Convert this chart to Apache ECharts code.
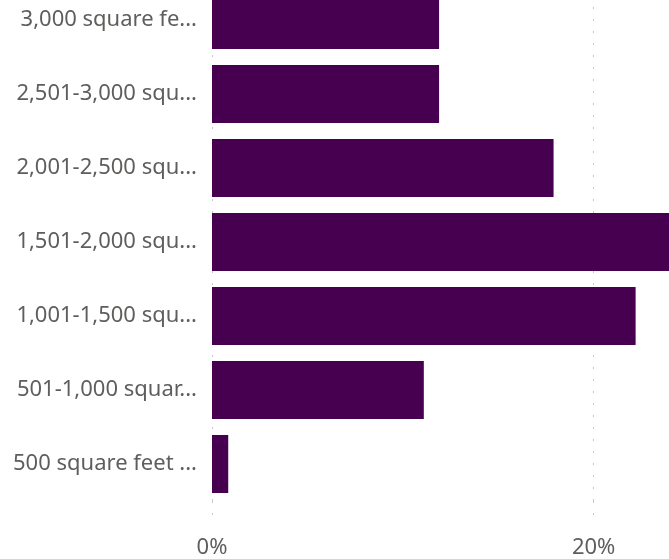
<!DOCTYPE html>
<html>
<head>
<meta charset="utf-8">
<script src="https://cdn.jsdelivr.net/npm/echarts@6/dist/echarts.min.js"></script>
<style>
html,body{margin:0;padding:0;background:#fff;overflow:hidden;width:669px;height:559px;}
/* chart is larger than the window, shifted up so the top bar is cut like the original */
#bar{position:absolute;left:0;top:-17px;width:1000px;height:576px;}
</style>
</head>
<body>
<div id="bar"></div>
<script>
// categories, bottom to top
var cats = ['500 square feet ...', '501-1,000 squar...', '1,001-1,500 squ...', '1,501-2,000 squ...', '2,001-2,500 squ...', '2,501-3,000 squ...', '3,000 square fe...'];
var vals = [0.85, 11.1, 22.2, 25.5, 17.9, 11.9, 11.9];
var ticks = [0, 20, 40];

var myChart = echarts.init(document.getElementById('bar'));
var option = {
	animation: false,
	grid: {
		left: 212,
		top: 0,
		width: 19.14 * ticks[ticks.length - 1],
		height: 518
	},
	xAxis: {
		type: 'value',
		min: ticks[0],
		max: ticks[ticks.length - 1],
		interval: 20,
		axisLine: {show: false},
		axisTick: {show: true, length: 24, lineStyle: {color: '#c8c8c8', type: [2, 10]}},
		axisLabel: {
			margin: 36,
			color: '#605E5C',
			fontSize: 22,
			fontFamily: 'Noto Sans',
			formatter: '{value}%'
		},
		splitLine: {show: true, lineStyle: {color: '#c8c8c8', type: [2, 10]}}
	},
	yAxis: {
		type: 'category',
		data: cats,
		axisLine: {show: false},
		axisTick: {show: false},
		axisLabel: {
			margin: 15,
			color: '#605E5C',
			fontSize: 22,
			fontFamily: 'Noto Sans'
		}
	},
	series: [{
		type: 'bar',
		data: vals,
		barCategoryGap: '21.6%',
		itemStyle: {color: '#46004F'}
	}]
};
myChart.setOption(option);
</script>
</body>
</html>
